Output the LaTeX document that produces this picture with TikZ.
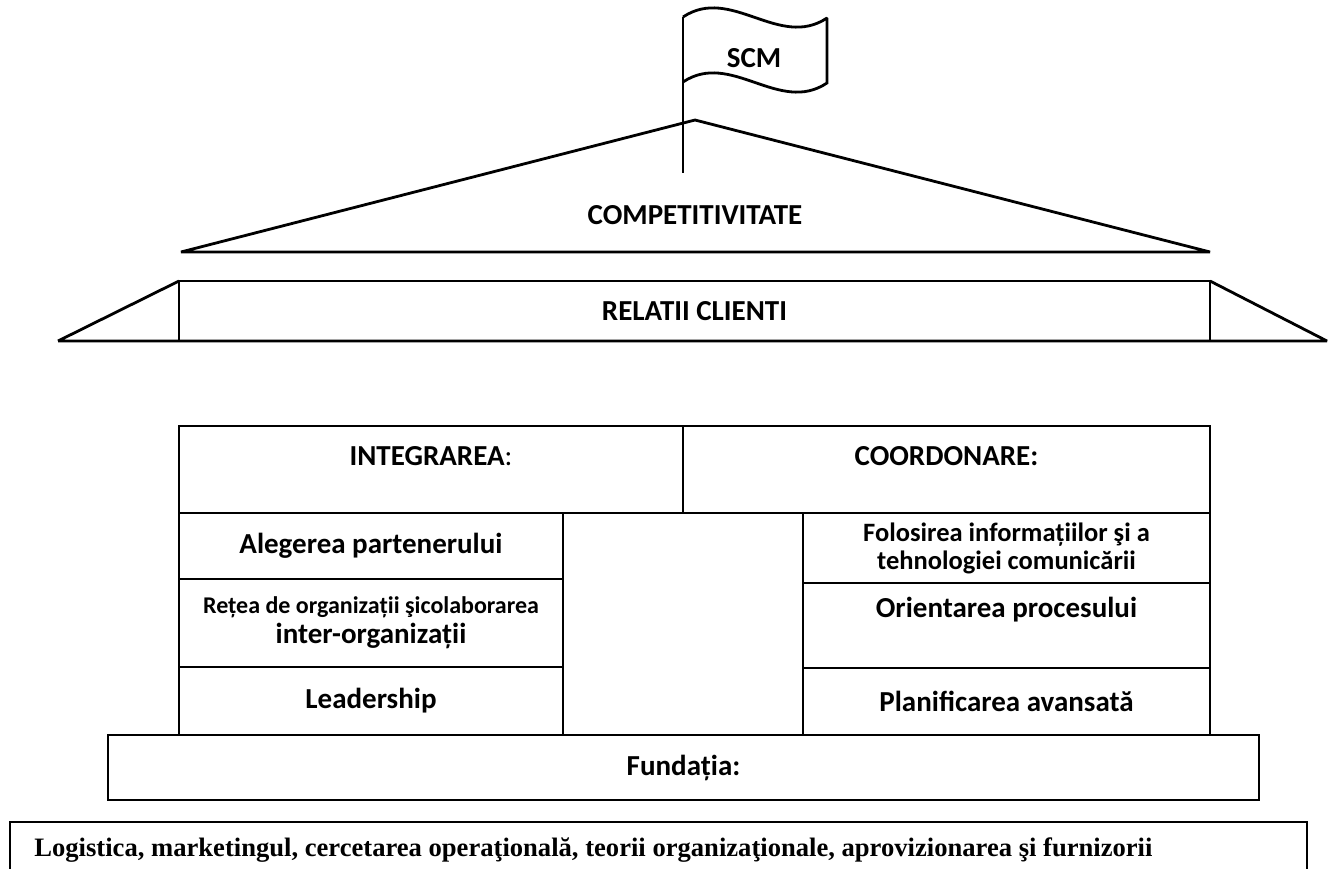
\documentclass[tikz,border=0pt]{standalone}
\usepackage{fontspec}
\setmainfont{Carlito}
\newfontfamily\timesfont{Liberation Serif}
\usepackage{tikz}

\begin{document}
\begin{tikzpicture}[x=0.5pt,y=-0.5pt,line width=1.4pt,miter limit=2]
\tikzstyle{cell}=[draw,rectangle,inner sep=0pt,outer sep=0pt,align=center,font=\fontsize{14.5}{14}\selectfont\bfseries]
\tikzstyle{lbl}=[inner sep=0pt,align=center,font=\fontsize{14.5}{14}\selectfont\bfseries]
\useasboundingbox (0,0) rectangle (1328,868);

% flag and pole
\coordinate (poletop) at (683,17);
\coordinate (polefoot) at (683,173);
\draw (poletop) .. controls (731,-15) and (779,50) .. (827,18) -- (827,83)
      .. controls (779,115) and (731,50) .. (683,82);
\node[lbl] (scm) at (754,58) {SCM};

% roof
\coordinate (apex) at (695,120);
\coordinate (eaveL) at (181,252);
\coordinate (eaveR) at (1210,252);
\draw (eaveL) -- (apex) -- (eaveR) -- cycle;
\draw (poletop) -- (polefoot);
\node[lbl] (comp) at (695,215) {COMPETITIVITATE};

% band
\node[cell,minimum width=515.5pt,minimum height=30pt] (rel) at (694.5,311) {RELATII CLIENTI};
\coordinate (wingL) at (58,341);
\coordinate (wingR) at (1327,341);
\draw (wingL) -- (rel.north west) (rel.north east) -- (wingR) -- (wingL);

% pillars
\node[cell,minimum width=252pt,minimum height=43.5pt] (integ) at (431,469.5) {};
\node[cell,minimum width=263.5pt,minimum height=43.5pt] (coord) at (946.5,469.5) {};
\node[lbl] (integtxt) at (431,456) {INTEGRAREA{\mdseries :}};
\node[lbl] (coordtxt) at (946.5,456) {COORDONARE:};

\node[cell,minimum width=192pt,minimum height=33pt] (alegere) at (371,546) {Alegerea partenerului};
\node[cell,minimum width=192pt,minimum height=44pt] (retea) at (371,623)
  {{\fontsize{12}{14}\selectfont Rețea de organizații şicolaborarea}\\[1pt]inter-organizații};
\node[cell,minimum width=192pt,minimum height=34pt] (leader) at (371,701) {Leadership};

\node[cell,minimum width=203.5pt,minimum height=35pt,font=\fontsize{13.25}{14}\selectfont\bfseries] (folos) at (1006.5,548)
  {Folosirea informațiilor şi a\\tehnologiei comunicării};
\node[cell,minimum width=203.5pt,minimum height=42.5pt] (orient) at (1006.5,625.5) {};
\node[lbl] (orienttxt) at (1006.5,610) {Orientarea procesului};
\node[cell,minimum width=203.5pt,minimum height=33.5pt] (planif) at (1006.5,701.5) {Planificarea avansată};

% foundation
\node[cell,minimum width=575.5pt,minimum height=32.5pt] (fund) at (683.5,767.5) {Fundația:};
\node[cell,minimum width=648.5pt,minimum height=39pt] (base) at (658.5,861) {};
\node[anchor=west,inner sep=0pt,font=\timesfont\fontsize{13.3}{15}\selectfont\bfseries] (basetxt) at (33,850)
  {Logistica, marketingul, cercetarea operaţională, teorii organizaţionale, aprovizionarea şi furnizorii};
\end{tikzpicture}
\end{document}
